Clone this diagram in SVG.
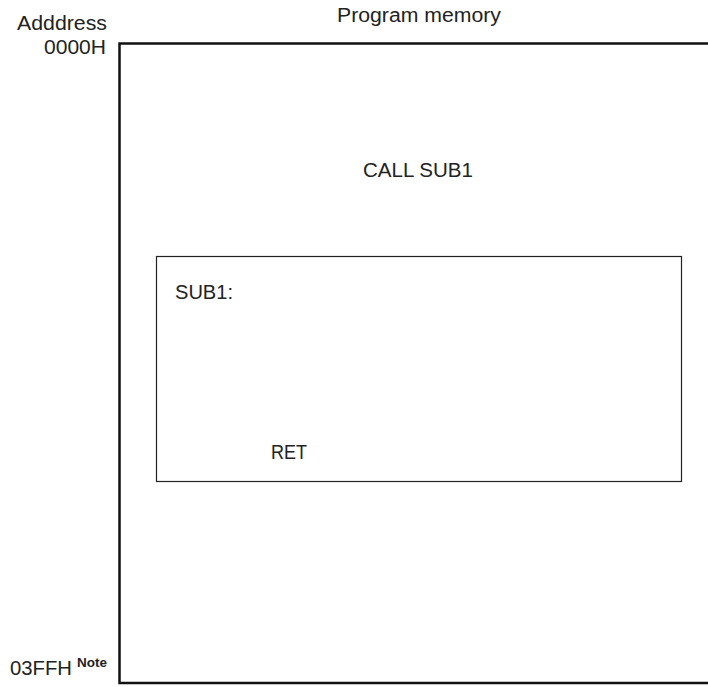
<svg xmlns="http://www.w3.org/2000/svg" width="708" height="687" viewBox="0 0 708 687">
<style>
.t{font-family:"Liberation Sans",Arial,sans-serif;font-size:20px;fill:#222}
.n{font-family:"Liberation Sans",Arial,sans-serif;font-size:12px;font-weight:bold;fill:#222}
.outer{fill:none;stroke:#111;stroke-width:2.5}
.inner{fill:none;stroke:#222;stroke-width:1.2}
</style>
<rect width="708" height="687" fill="#fff"/>
<g id="labels">
<text class="t" x="17" y="30" textLength="90" lengthAdjust="spacingAndGlyphs">Adddress</text>
<text class="t" x="44" y="54" textLength="62" lengthAdjust="spacingAndGlyphs">0000H</text>
<text class="t" x="337" y="22" textLength="164" lengthAdjust="spacingAndGlyphs">Program memory</text>
<text class="t" x="10" y="675" textLength="62" lengthAdjust="spacingAndGlyphs">03FFH</text>
<text class="n" x="77" y="667" textLength="30" lengthAdjust="spacingAndGlyphs">Note</text>
</g>
<g id="program-memory">
<path class="outer" d="M708,43.5 H119.5 V683 H708"/>
<text class="t" x="363" y="177" textLength="110" lengthAdjust="spacingAndGlyphs">CALL SUB1</text>
</g>
<g id="sub1">
<rect class="inner" x="156.5" y="256.5" width="525" height="225"/>
<text class="t" x="175" y="299" textLength="58" lengthAdjust="spacingAndGlyphs">SUB1:</text>
<text class="t" x="271" y="459" textLength="36" lengthAdjust="spacingAndGlyphs">RET</text>
</g>
<g id="connectors"/>
</svg>
